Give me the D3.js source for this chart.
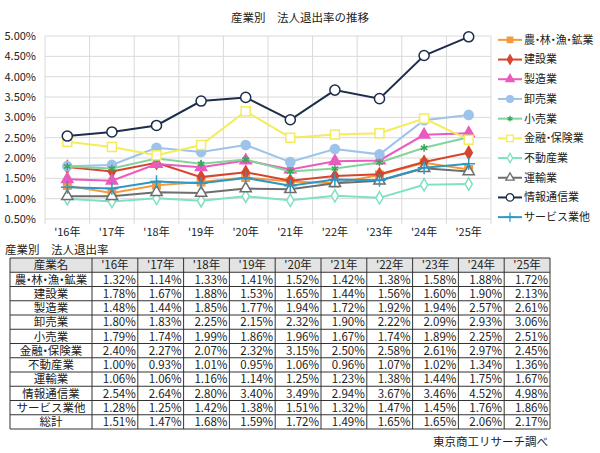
<!DOCTYPE html>
<html>
<head>
<meta charset="utf-8">
<script src="https://cdn.jsdelivr.net/npm/d3@7"></script>
<style>
  body { margin: 0; background: #fff; }
  svg text { font-family: "Noto Sans CJK JP", "Noto Sans", sans-serif; fill: #222; }
</style>
</head>
<body>
<div id="chart"></div>
<script>
// data
var years = ["'16年", "'17年", "'18年", "'19年", "'20年", "'21年", "'22年", "'23年", "'24年", "'25年"];
var yTicks = [0.5, 1, 1.5, 2, 2.5, 3, 3.5, 4, 4.5, 5];

var agri     = [1.32, 1.14, 1.33, 1.41, 1.52, 1.42, 1.38, 1.58, 1.88, 1.72];
var constr   = [1.78, 1.67, 1.88, 1.53, 1.65, 1.44, 1.56, 1.60, 1.90, 2.13];
var manuf    = [1.48, 1.44, 1.85, 1.77, 1.94, 1.72, 1.92, 1.94, 2.57, 2.61];
var wholesale= [1.80, 1.83, 2.25, 2.15, 2.32, 1.90, 2.22, 2.09, 2.93, 3.06];
var retail   = [1.79, 1.74, 1.99, 1.86, 1.96, 1.67, 1.74, 1.89, 2.25, 2.51];
var finance  = [2.40, 2.27, 2.07, 2.32, 3.15, 2.50, 2.58, 2.61, 2.97, 2.45];
var realty   = [1.00, 0.93, 1.01, 0.95, 1.06, 0.96, 1.07, 1.02, 1.34, 1.36];
var transport= [1.06, 1.06, 1.16, 1.14, 1.25, 1.23, 1.38, 1.44, 1.75, 1.67];
var infocomm = [2.54, 2.64, 2.80, 3.40, 3.49, 2.94, 3.67, 3.46, 4.52, 4.98];
var services = [1.28, 1.25, 1.42, 1.38, 1.51, 1.32, 1.47, 1.45, 1.76, 1.86];
var total    = [1.51, 1.47, 1.68, 1.59, 1.72, 1.49, 1.65, 1.65, 2.06, 2.17];

var names = ["農・林・漁・鉱業", "建設業", "製造業", "卸売業", "小売業", "金融・保険業", "不動産業", "運輸業", "情報通信業", "サービス業他"];

var series = [
  {name: names[0], values: agri,      color: "#F39A3C", mark: "#F39A3C", fill: "#F39A3C", sym: d3.symbolSquare,   size: 55},
  {name: names[1], values: constr,    color: "#D6452F", mark: "#D6452F", fill: "#D6452F", sym: d3.symbolDiamond,  size: 45},
  {name: names[2], values: manuf,     color: "#E95BBE", mark: "#E95BBE", fill: "#E95BBE", sym: d3.symbolTriangle, size: 55},
  {name: names[3], values: wholesale, color: "#9DC3EA", mark: "#9DC3EA", fill: "#9DC3EA", sym: d3.symbolCircle,   size: 65},
  {name: names[4], values: retail,    color: "#82D49C", mark: "#3AA65A", fill: "none",    sym: d3.symbolAsterisk, size: 40},
  {name: names[5], values: finance,   color: "#F4EC5A", mark: "#F4EC5A", fill: "#fff",    sym: d3.symbolSquare,   size: 80},
  {name: names[6], values: realty,    color: "#7EE0C4", mark: "#7EE0C4", fill: "#fff",    sym: d3.symbolDiamond,  size: 45},
  {name: names[7], values: transport, color: "#6E6E6E", mark: "#6E6E6E", fill: "#fff",    sym: d3.symbolTriangle, size: 55},
  {name: names[8], values: infocomm,  color: "#1C2E4A", mark: "#1C2E4A", fill: "#fff",    sym: d3.symbolCircle,   size: 80},
  {name: names[9], values: services,  color: "#2E98C4", mark: "#2E98C4", fill: "none",    sym: d3.symbolPlus,     size: 55}
];

var tableRows = names.concat(["総計"]);
var tableVals = [agri, constr, manuf, wholesale, retail, finance, realty, transport, infocomm, services, total];

var W = 600, H = 453;
var svg = d3.select("#chart").append("svg")
  .attr("width", W).attr("height", H);

// write a label, pulling the full-width "・" tight like the original font does
function label(sel, txt) {
  var parts = txt.split("・");
  parts.forEach(function(p, i) {
    if (i > 0) sel.append("tspan").attr("dx", "-0.28em").text("・");
    var t = sel.append("tspan").text(p);
    if (i > 0) t.attr("dx", "-0.28em");
  });
}

// chart
var x = d3.scaleBand().domain(years).range([45, 491]);
var y = d3.scaleLinear().domain([0.5, 5]).range([219, 36]);

svg.append("text")
  .attr("x", 300).attr("y", 22)
  .attr("text-anchor", "middle")
  .style("font-size", "11.5px")
  .text("産業別　法人退出率の推移");

var grid = svg.append("g");
grid.selectAll("line.h").data(yTicks).enter().append("line")
  .attr("x1", 45).attr("x2", 491)
  .attr("y1", function(d) { return y(d); }).attr("y2", function(d) { return y(d); })
  .attr("stroke", "#d9d9d9").attr("stroke-width", 1);
var bounds = years.map(function(d) { return x(d); }).concat([x.range()[1]]);
grid.selectAll("line.v").data(bounds).enter().append("line")
  .attr("x1", function(d) { return d; }).attr("x2", function(d) { return d; })
  .attr("y1", 36).attr("y2", 224)
  .attr("stroke", "#d9d9d9").attr("stroke-width", 1);

var yAxis = svg.append("g")
  .attr("transform", "translate(45,0)")
  .call(d3.axisLeft(y).tickValues(yTicks).tickSize(0).tickPadding(9)
    .tickFormat(function(d) { return d.toFixed(2) + "%"; }));
yAxis.select(".domain").remove();
yAxis.selectAll("text").style("font-size", "11px").style("font-family", "\"Noto Sans CJK JP\", sans-serif").attr("fill", "#222");

var xAxis = svg.append("g")
  .attr("transform", "translate(0,226)")
  .call(d3.axisBottom(x).tickSize(0).tickPadding(2));
xAxis.select(".domain").remove();
xAxis.selectAll("text").style("font-size", "11px").style("font-family", "\"Noto Sans CJK JP\", sans-serif").attr("fill", "#222");

var line = d3.line()
  .x(function(d, i) { return x(years[i]) + x.bandwidth() / 2; })
  .y(function(d) { return y(d); });

series.forEach(function(s) {
  var g = svg.append("g");
  g.append("path")
    .attr("d", line(s.values))
    .attr("fill", "none")
    .attr("stroke", s.color)
    .attr("stroke-width", 2);
  g.selectAll("path.m").data(s.values).enter().append("path")
    .attr("transform", function(d, i) {
      return "translate(" + (x(years[i]) + x.bandwidth() / 2) + "," + y(d) + ")";
    })
    .attr("d", d3.symbol().type(s.sym).size(s.size))
    .attr("fill", s.fill)
    .attr("stroke", s.mark)
    .attr("stroke-width", 1.5);
});

// legend
var ly = d3.scaleBand().domain(names).range([30, 227]);
var leg = svg.append("g").selectAll("g").data(series).enter().append("g")
  .attr("transform", function(d) { return "translate(0," + (ly(d.name) + ly.bandwidth() / 2) + ")"; });
leg.append("line")
  .attr("x1", 498).attr("x2", 522)
  .attr("stroke", function(d) { return d.color; }).attr("stroke-width", 2);
leg.append("path")
  .attr("transform", "translate(510,0)")
  .attr("d", function(d) { return d3.symbol().type(d.sym).size(d.size * 0.55)(); })
  .attr("fill", function(d) { return d.fill; })
  .attr("stroke", function(d) { return d.mark; })
  .attr("stroke-width", 1.3);
leg.append("text")
  .attr("x", 524).attr("dy", "0.35em")
  .style("font-size", "11px")
  .each(function(d) { label(d3.select(this), d.name); });

// table
svg.append("text")
  .attr("x", 5).attr("y", 254)
  .style("font-size", "11.5px")
  .text("産業別　法人退出率");

var cols = ["産業名"].concat(years);
// first column is wider than the year columns
var tx = d3.scaleBand().domain(years).range([92, 550]);
var colLeft = function(i) { return i === 0 ? 10 : tx(cols[i]); };
var colRight = function(i) { return i === 0 ? 92 : tx(cols[i]) + tx.bandwidth(); };
var ty = d3.scaleBand().domain(d3.range(tableRows.length + 1)).range([258, 429]);

var table = svg.append("g");
table.append("rect")
  .attr("x", 10).attr("y", ty(0))
  .attr("width", 540).attr("height", ty.bandwidth())
  .attr("fill", "#e3e3e3");

cols.forEach(function(c, i) {
  table.append("text")
    .attr("x", (colLeft(i) + colRight(i)) / 2)
    .attr("y", ty(0) + ty.bandwidth() / 2)
    .attr("dy", "0.36em")
    .attr("text-anchor", "middle")
    .style("font-size", "11.5px")
    .text(c);
});

tableRows.forEach(function(r, j) {
  var ry = ty(j + 1) + ty.bandwidth() / 2;
  var t = table.append("text")
    .attr("x", 51).attr("y", ry).attr("dy", "0.36em")
    .attr("text-anchor", "middle")
    .style("font-size", "11.5px");
  label(t, r);
  tableVals[j].forEach(function(v, i) {
    table.append("text")
      .attr("x", colRight(i + 1) - 2).attr("y", ry).attr("dy", "0.36em")
      .attr("text-anchor", "end")
      .style("font-size", "11.5px")
      .text(v.toFixed(2) + "%");
  });
});

// borders
d3.range(tableRows.length + 2).forEach(function(j) {
  var yy = j <= tableRows.length ? ty(j) : ty.range()[1];
  table.append("line")
    .attr("x1", 10).attr("x2", 550).attr("y1", yy).attr("y2", yy)
    .attr("stroke", "#333").attr("stroke-width", 1);
});
d3.range(cols.length + 1).forEach(function(i) {
  var xx = i < cols.length ? colLeft(i) : 550;
  table.append("line")
    .attr("x1", xx).attr("x2", xx).attr("y1", 258).attr("y2", 429)
    .attr("stroke", "#333").attr("stroke-width", 1);
});

svg.append("text")
  .attr("x", 548).attr("y", 446)
  .attr("text-anchor", "end")
  .style("font-size", "11.5px")
  .text("東京商工リサーチ調べ");
</script>
</body>
</html>
